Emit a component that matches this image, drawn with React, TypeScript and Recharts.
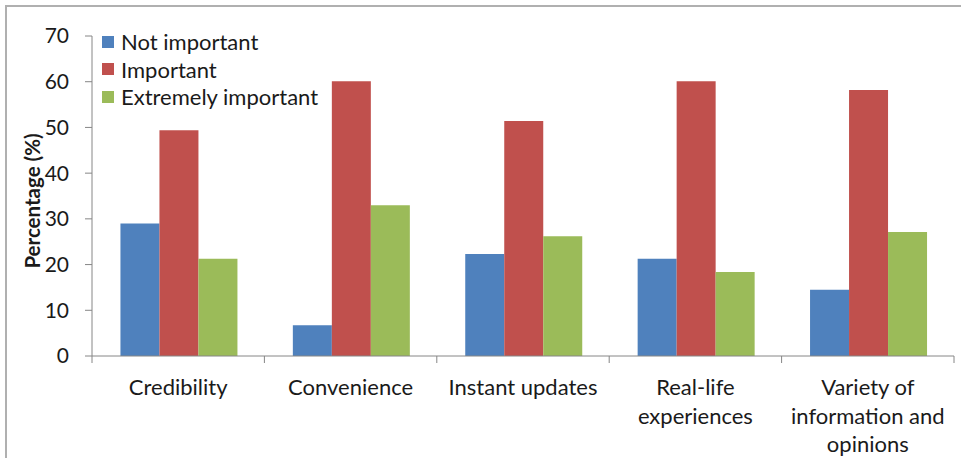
import React from "react"
import {
  BarChart,
  Bar,
  XAxis,
  YAxis,
} from "recharts"

const categories = [
  "Credibility",
  "Convenience",
  "Instant updates",
  "Real-life experiences",
  "Variety of information and opinions",
]
const notImportant = [29.0, 6.7, 22.3, 21.3, 14.5]
const important = [49.4, 60.1, 51.4, 60.1, 58.2]
const extremelyImportant = [21.3, 33.0, 26.2, 18.4, 27.1]
const yTicks = [0, 10, 20, 30, 40, 50, 60, 70]

const series = [
  { key: "notImportant", name: "Not important", color: "#4F81BD" },
  { key: "important", name: "Important", color: "#C0504D" },
  { key: "extremelyImportant", name: "Extremely important", color: "#9BBB59" },
]

const data = categories.map((name, i) => ({
  name,
  notImportant: notImportant[i],
  important: important[i],
  extremelyImportant: extremelyImportant[i],
}))

const FONT = "Lato, 'Open Sans', sans-serif"
const AXIS = "#868686"
const TEXT = "#1a1a1a"

// word-wrap a category label to the given pixel width
function wrapLabel(text: string, maxWidth: number, font: string): string[] {
  const ctx = document.createElement("canvas").getContext("2d")
  if (!ctx) return [text]
  ctx.font = font
  const words = text.split(" ")
  const lines: string[] = []
  let line = ""
  for (const w of words) {
    const next = line ? line + " " + w : w
    if (line && ctx.measureText(next).width > maxWidth) {
      lines.push(line)
      line = w
    } else {
      line = next
    }
  }
  if (line) lines.push(line)
  return lines
}

// category tick: label plus Excel-style marks on the band edges
function CategoryTick(props: any) {
  const { x, y, payload, index, width, visibleTicksCount } = props
  const band = width / visibleTicksCount
  const lines = wrapLabel(payload.value, 166, `22px ${FONT}`)
  return (
    <g>
      <line x1={x - band / 2} x2={x - band / 2} y1={y} y2={y + 7} stroke={AXIS} />
      {index === visibleTicksCount - 1 && (
        <line x1={x + band / 2} x2={x + band / 2} y1={y} y2={y + 7} stroke={AXIS} />
      )}
      <text x={x} y={y + 39} textAnchor="middle" fontSize={22} fontFamily={FONT} fill={TEXT}>
        {lines.map((l, i) => (
          <tspan key={i} x={x} dy={i === 0 ? 0 : 28.5}>
            {l}
          </tspan>
        ))}
      </text>
    </g>
  )
}

export default function App() {
  return (
    <div
      style={{
        position: "absolute",
        left: 0,
        top: 0,
        width: 961,
        height: 458,
        overflow: "hidden",
        background: "#fff",
      }}
    >
      <div
        style={{
          position: "absolute",
          left: 5,
          top: 5,
          width: 1000,
          height: 500,
          borderTop: "2px solid #b0b0b0",
          borderLeft: "2px solid #b0b0b0",
        }}
      />
      <BarChart
        width={961}
        height={458}
        data={data}
        margin={{ top: 36, right: 7, left: 0, bottom: 0 }}
        barCategoryGap="16.5%"
        barGap={0}
      >
        <XAxis
          dataKey="name"
          height={102}
          stroke={AXIS}
          tickLine={false}
          tickSize={0}
          tickMargin={0}
          interval={0}
          tick={<CategoryTick />}
        />
        <YAxis
          width={92}
          domain={[0, 70]}
          ticks={yTicks}
          stroke={AXIS}
          tickSize={7}
          tickMargin={16}
          tick={{ fill: TEXT, fontSize: 21, fontFamily: FONT }}
          label={{
            content: ({ viewBox }: any) => {
              const cx = viewBox.x + 32
              const cy = viewBox.y + viewBox.height / 2 + 5
              return (
                <text
                  x={cx}
                  y={cy}
                  transform={`rotate(-90 ${cx} ${cy})`}
                  textAnchor="middle"
                  dominantBaseline="central"
                  fontSize={20.5}
                  fontWeight="bold"
                  fontFamily={FONT}
                  fill={TEXT}
                >
                  Percentage (%)
                </text>
              )
            },
          }}
        />
        {series.map((s) => (
          <Bar key={s.key} dataKey={s.key} name={s.name} fill={s.color} isAnimationActive={false} />
        ))}
      </BarChart>
      {/* legend sits inside the plot, top-left */}
      <div
        style={{
          position: "absolute",
          left: 102,
          top: 28,
          fontFamily: FONT,
          fontSize: 22,
          color: TEXT,
        }}
      >
        {series.map((s) => (
          <div key={s.key} style={{ display: "flex", alignItems: "center", height: 27.5 }}>
            <span style={{ width: 12, height: 12, background: s.color, marginRight: 7 }} />
            <span>{s.name}</span>
          </div>
        ))}
      </div>
    </div>
  )
}
